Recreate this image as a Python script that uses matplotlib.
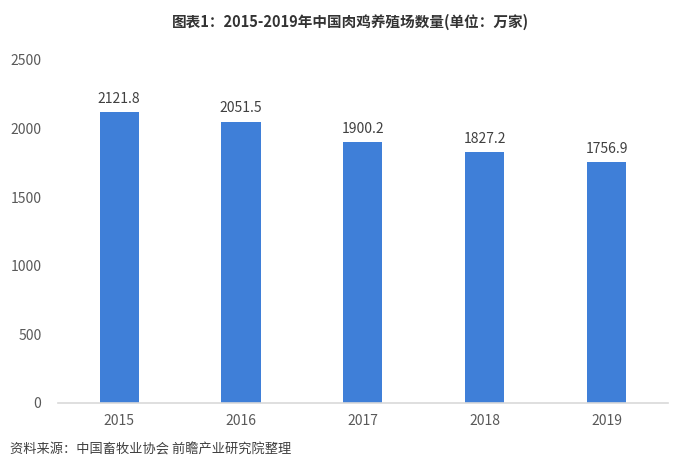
import matplotlib
matplotlib.use("Agg")
import matplotlib.pyplot as plt

plt.rcParams['font.family'] = ['Noto Sans CJK SC', 'DejaVu Sans']

# 数据
years = ['2015', '2016', '2017', '2018', '2019']
farms = [2121.8, 2051.5, 1900.2, 1827.2, 1756.9]

fig = plt.figure(figsize=(7, 4.75), dpi=100)
ax = fig.add_axes([0.083, 0.1516, 0.871, 0.7221])

bars = ax.bar(years, farms, width=0.32, color='#3f7fd8')
for b, v in zip(bars, farms):
    ax.text(b.get_x() + b.get_width() / 2, v + 45, f'{v:.1f}',
            ha='center', va='bottom', fontsize=10, color='#404040')

ax.set_ylim(0, 2500)
ax.set_yticks(range(0, 2501, 500))
ax.set_xlim(-0.5, 4.5)
for s in ['top', 'right', 'left']:
    ax.spines[s].set_visible(False)
ax.spines['bottom'].set_color('#d9d9d9')
ax.spines['bottom'].set_linewidth(1.2)
ax.tick_params(axis='both', length=0, labelsize=10, colors='#595959')
ax.tick_params(axis='y', pad=12)
ax.tick_params(axis='x', pad=8)

fig.text(0.5, 0.953, '图表1：2015-2019年中国肉鸡养殖场数量(单位：万家)',
         ha='center', va='center', fontsize=10.5, fontweight='bold', color='#333333')
fig.text(0.015, 0.052, '资料来源：中国畜牧业协会 前瞻产业研究院整理',
         ha='left', va='center', fontsize=9.5, color='#404040')

fig.savefig('out.png', dpi=100)
